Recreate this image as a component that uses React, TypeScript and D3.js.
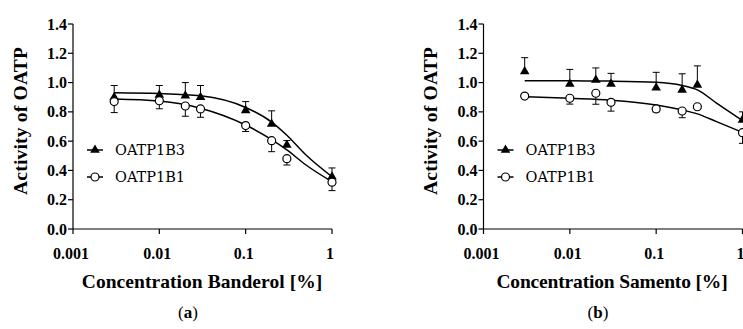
import React from "react";
import * as d3 from "d3";

const WIDTH = 743;
const HEIGHT = 329;

// measured concentrations (%)
const concentrations = [0.003, 0.01, 0.02, 0.03, 0.1, 0.2, 0.3, 1];
const fitConcentrations = [0.003, 0.01, 0.03, 0.1, 0.2, 0.3, 0.5, 1];

const yTicks = [0, 0.2, 0.4, 0.6, 0.8, 1.0, 1.2, 1.4];
const xTicks = [0.001, 0.01, 0.1, 1];
const xTickLabels = ["0.001", "0.01", "0.1", "1"];

// Banderol
const banderol1B3 = [0.9, 0.915, 0.91, 0.9, 0.81, 0.717, 0.574, 0.357];
const banderol1B3Err = [0.08, 0.065, 0.09, 0.08, 0.06, 0.09, 0.03, 0.06];
const banderol1B1 = [0.87, 0.876, 0.84, 0.82, 0.706, 0.603, 0.48, 0.32];
const banderol1B1Err = [0.075, 0.055, 0.07, 0.057, 0.04, 0.075, 0.043, 0.058];
const banderolFit1B3 = [0.93, 0.925, 0.91, 0.83, 0.73, 0.64, 0.505, 0.357];
const banderolFit1B1 = [0.888, 0.874, 0.825, 0.71, 0.61, 0.54, 0.437, 0.323];

// Samento
const samento1B3 = [1.075, 0.99, 1.018, 0.99, 0.965, 0.95, 0.984, 0.745];
const samento1B3Err = [0.095, 0.1, 0.082, 0.073, 0.105, 0.11, 0.13, 0.055];
const samento1B1 = [0.908, 0.893, 0.927, 0.865, 0.82, 0.806, 0.835, 0.658];
const samento1B1Err = [0.01, 0.04, 0.075, 0.06, 0.02, 0.046, 0.01, 0.073];
const samentoFit1B3 = [1.013, 1.012, 1.01, 1.002, 0.98, 0.95, 0.86, 0.74];
const samentoFit1B1 = [0.904, 0.893, 0.88, 0.847, 0.813, 0.786, 0.733, 0.66];

const seriesNames = ["OATP1B3", "OATP1B1"];

const SERIF = "'Liberation Serif', serif";
const WIDE_SERIF = "'DejaVu Serif', serif";

interface PanelProps {
  x0: number;
  x1: number;
  xTitle: string;
  caption: string;
  tri: number[];
  triErr: number[];
  circ: number[];
  circErr: number[];
  fitTri: number[];
  fitCirc: number[];
  yTitleX: number;
  xTitleX: number;
  captionX: number;
}

const triPath = d3.symbol(d3.symbolTriangle, 40)() || "";

const Panel: React.FC<PanelProps> = ({
  x0, x1, xTitle, caption, tri, triErr, circ, circErr, fitTri, fitCirc,
  yTitleX, xTitleX, captionX,
}) => {
  const x = d3.scaleLog().domain([0.001, 1]).range([x0, x1]);
  const y = d3.scaleLinear().domain([0, 1.4]).range([229, 24]);

  const line = d3
    .line<number>()
    .x((_, i) => x(fitConcentrations[i]))
    .y((d) => y(d))
    .curve(d3.curveMonotoneX);

  const legendX = x0 + 14;
  const legendY = [150, 177];

  return (
    <g>
      {/* axes */}
      <line x1={x0} x2={x1} y1={y(0)} y2={y(0)} stroke="#000" strokeWidth={1.2} />
      <line x1={x0} x2={x0} y1={y(0)} y2={y(1.4)} stroke="#000" strokeWidth={1.2} />
      {yTicks.map((t) => (
        <g key={`y-${t}`}>
          <line x1={x0 - 5} x2={x0} y1={y(t)} y2={y(t)} stroke="#000" strokeWidth={1.2} />
          <text
            x={x0 - 6}
            y={y(t)}
            textAnchor="end"
            dominantBaseline="central"
            style={{ fontFamily: SERIF, fontWeight: "bold", fontSize: 16 }}
          >
            {t.toFixed(1)}
          </text>
        </g>
      ))}
      {xTicks.map((t, i) => (
        <g key={`x-${t}`}>
          <line x1={x(t)} x2={x(t)} y1={y(0)} y2={y(0) + 5} stroke="#000" strokeWidth={1.2} />
          <text
            x={x(t) - 2}
            y={253}
            textAnchor="middle"
            dominantBaseline="central"
            style={{ fontFamily: SERIF, fontWeight: "bold", fontSize: 16 }}
          >
            {xTickLabels[i]}
          </text>
        </g>
      ))}

      {/* titles */}
      <text
        transform={`translate(${yTitleX},121) rotate(-90)`}
        textAnchor="middle"
        dominantBaseline="central"
        textLength={148}
        lengthAdjust="spacing"
        style={{ fontFamily: SERIF, fontWeight: "bold", fontSize: 19.5 }}
      >
        Activity of OATP
      </text>
      <text
        x={xTitleX}
        y={281}
        textAnchor="middle"
        dominantBaseline="central"
        textLength={xTitle.length * 9.25}
        lengthAdjust="spacing"
        style={{ fontFamily: SERIF, fontWeight: "bold", fontSize: 19.5 }}
      >
        {xTitle}
      </text>
      <text
        x={captionX}
        y={312}
        textAnchor="middle"
        dominantBaseline="central"
        style={{ fontFamily: SERIF, fontSize: 17 }}
      >
        (<tspan fontWeight="bold">{caption}</tspan>)
      </text>

      {/* fitted curves */}
      <path d={line(fitTri) || ""} fill="none" stroke="#000" strokeWidth={1.5} />
      <path d={line(fitCirc) || ""} fill="none" stroke="#000" strokeWidth={1.5} />

      {/* error bars */}
      {concentrations.map((c, i) => (
        <g key={`e-${c}`} stroke="#000" strokeWidth={1}>
          <line x1={x(c)} x2={x(c)} y1={y(tri[i])} y2={y(tri[i] + triErr[i])} />
          <line x1={x(c) - 3.5} x2={x(c) + 3.5} y1={y(tri[i] + triErr[i])} y2={y(tri[i] + triErr[i])} />
          <line x1={x(c)} x2={x(c)} y1={y(circ[i])} y2={y(circ[i] - circErr[i])} />
          <line x1={x(c) - 3.5} x2={x(c) + 3.5} y1={y(circ[i] - circErr[i])} y2={y(circ[i] - circErr[i])} />
        </g>
      ))}

      {/* markers */}
      {concentrations.map((c, i) => (
        <g key={`m-${c}`}>
          <path d={triPath} transform={`translate(${x(c)},${y(tri[i])})`} fill="#000" />
          <circle cx={x(c)} cy={y(circ[i])} r={4} fill="#fff" stroke="#000" strokeWidth={1.2} />
        </g>
      ))}

      {/* legend */}
      {seriesNames.map((name, i) => (
        <g key={name}>
          <line x1={legendX} x2={legendX + 16} y1={legendY[i]} y2={legendY[i]} stroke="#000" strokeWidth={1.5} />
          {i === 0 ? (
            <path d={triPath} transform={`translate(${legendX + 8},${legendY[i]})`} fill="#000" />
          ) : (
            <circle cx={legendX + 8} cy={legendY[i]} r={4} fill="#fff" stroke="#000" strokeWidth={1.2} />
          )}
          <text
            x={legendX + 28}
            y={legendY[i]}
            dominantBaseline="central"
            style={{ fontFamily: WIDE_SERIF, fontSize: 14.5 }}
          >
            {name}
          </text>
        </g>
      ))}
    </g>
  );
};

export default function App() {
  return (
    <svg
      width={WIDTH}
      height={HEIGHT}
      style={{ position: "absolute", left: 0, top: 0, background: "#fff" }}
    >
      <Panel
        x0={73}
        x1={332}
        xTitle="Concentration Banderol [%]"
        caption="a"
        tri={banderol1B3}
        triErr={banderol1B3Err}
        circ={banderol1B1}
        circErr={banderol1B1Err}
        fitTri={banderolFit1B3}
        fitCirc={banderolFit1B1}
        yTitleX={20}
        xTitleX={202}
        captionX={188}
      />
      <Panel
        x0={483.5}
        x1={742.5}
        xTitle="Concentration Samento [%]"
        caption="b"
        tri={samento1B3}
        triErr={samento1B3Err}
        circ={samento1B1}
        circErr={samento1B1Err}
        fitTri={samentoFit1B3}
        fitCirc={samentoFit1B1}
        yTitleX={430.5}
        xTitleX={612}
        captionX={598}
      />
    </svg>
  );
}
